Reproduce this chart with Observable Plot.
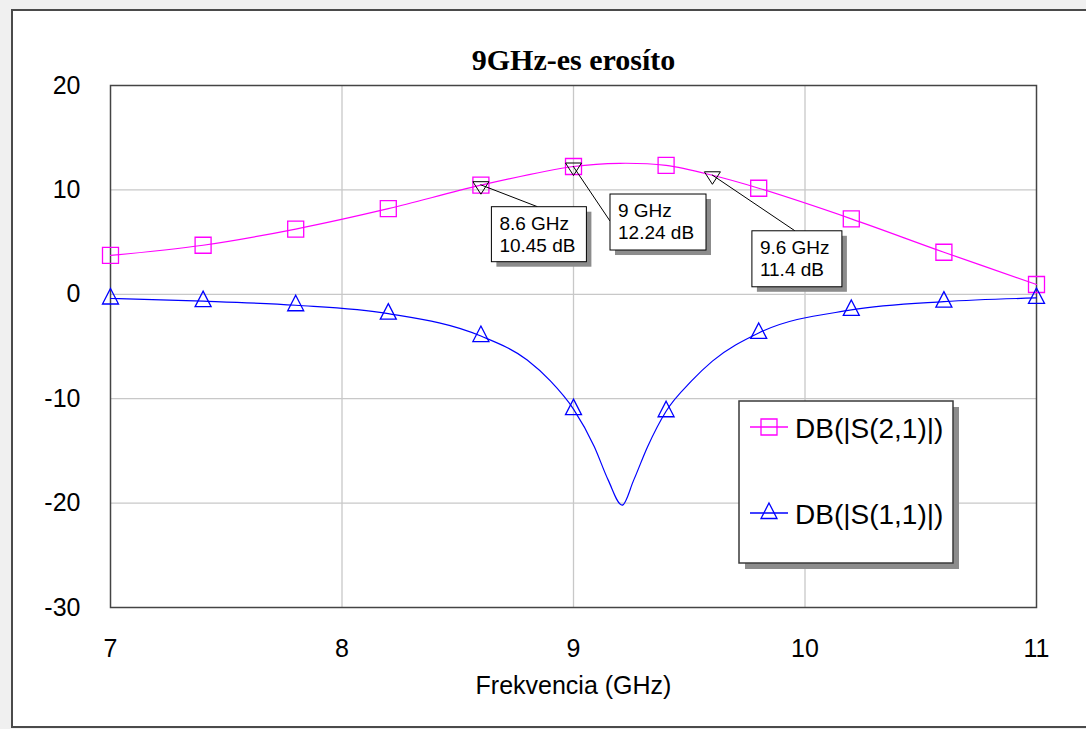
<!DOCTYPE html>
<html>
<head>
<meta charset="utf-8">
<script src="https://cdn.jsdelivr.net/npm/d3@7"></script>
<script src="https://cdn.jsdelivr.net/npm/@observablehq/plot@0.6"></script>
<style>
  html, body { margin: 0; padding: 0; background: #f0f0f0; width: 1086px; height: 729px; overflow: hidden; }
  #panel { position: absolute; left: 11px; top: 9px; width: 1090px; height: 715px; background: #fff;
           border: 2px solid #4a4a4a; border-right: none; }
  #chart { position: absolute; left: 0; top: 0; }
</style>
</head>
<body>
<div id="panel"></div>
<div id="chart"></div>
<script>
// ---- data -------------------------------------------------------------
const title = "9GHz-es erosíto";
const xLabel = "Frekvencia (GHz)";
const xTicks = [7, 8, 9, 10, 11];
const yTicks = [-30, -20, -10, 0, 10, 20];
const seriesNames = ["DB(|S(2,1)|)", "DB(|S(1,1)|)"];

// frequencies where the symbols sit on each trace
const symbolFreq = [7.0, 7.4, 7.8, 8.2, 8.6, 9.0, 9.4, 9.8, 10.2, 10.6, 11.0];

// gain |S21| in dB
const s21Freq = [7.0, 7.4, 7.8, 8.2, 8.6, 9.0, 9.2, 9.4, 9.6, 9.8, 10.2, 10.6, 11.0];
const s21Db   = [3.72, 4.7, 6.25, 8.2, 10.45, 12.24, 12.55, 12.34, 11.4, 10.16, 7.23, 4.03, 0.94];

// input match |S11| in dB
const s11Freq = [7.0, 7.4, 7.8, 8.2, 8.6, 8.8, 8.9, 9.0, 9.09, 9.15, 9.21, 9.26, 9.32, 9.4, 9.51, 9.6, 9.8, 10.2, 10.6, 11.0];
const s11Db   = [-0.4, -0.65, -1.05, -1.85, -4.0, -6.3, -8.3, -11.0, -14.6, -17.8, -20.2, -17.8, -14.6, -11.2, -8.3, -6.4, -3.7, -1.5, -0.7, -0.35];

// readout markers on the S21 trace
const readoutFreq = [8.6, 9.0, 9.6];
const readoutDb   = [10.45, 12.24, 11.4];

// ---- layout (pixels) --------------------------------------------------
// box offset from the marker point, box size, and where the leader meets the box
const readoutBoxes = [
  { dx: 11, dy: 22, w: 95, h: 55, lx: 57, ly: 22 },
  { dx: 37, dy: 28, w: 96, h: 56, lx: 37, ly: 55 },
  { dx: 40, dy: 56, w: 90, h: 56, lx: 83, ly: 56 }
];
const legendBox = { x: 739, y: 401, w: 214, h: 162, rows: [427, 513] };

// ---- tables -------------------------------------------------------------
const s21 = s21Freq.map((f, i) => ({ f, db: s21Db[i] }));
const s11 = s11Freq.map((f, i) => ({ f, db: s11Db[i] }));
const onSymbol = d => symbolFreq.some(s => Math.abs(s - d.f) < 1e-9);
const readouts = readoutFreq.map((f, i) => ({ f, db: readoutDb[i] }));

// ---- symbols ------------------------------------------------------------
const triUp = { draw(c) { c.moveTo(0, -10); c.lineTo(8, 5.5); c.lineTo(-8, 5.5); c.closePath(); } };
const triDown = { draw(c) { c.moveTo(0, 9); c.lineTo(8, -3.5); c.lineTo(-8, -3.5); c.closePath(); } };
const square = { draw(c) { c.moveTo(-8, -8); c.lineTo(8, -8); c.lineTo(8, 8); c.lineTo(-8, 8); c.closePath(); } };

const MAGENTA = "#ff00ff", BLUE = "#0000ff";

// readout boxes with leader lines and the series legend
function overlays(index, scales) {
  const g = d3.create("svg:g").attr("text-anchor", "start");
  readouts.forEach((r, i) => {
    const b = readoutBoxes[i];
    const px = scales.x(r.f), py = scales.y(r.db);
    g.append("line")
      .attr("x1", px).attr("y1", py).attr("x2", px + b.lx).attr("y2", py + b.ly)
      .attr("stroke", "#000").attr("stroke-width", 1);
    g.append("rect")
      .attr("x", px + b.dx + 5).attr("y", py + b.dy + 5).attr("width", b.w).attr("height", b.h)
      .attr("fill", "#8c8c8c");
    g.append("rect")
      .attr("x", px + b.dx).attr("y", py + b.dy).attr("width", b.w).attr("height", b.h)
      .attr("fill", "#fff").attr("stroke", "#000").attr("stroke-width", 1);
    const t = g.append("text")
      .attr("font-size", 19).attr("fill", "#000").attr("text-anchor", "start");
    t.append("tspan").attr("x", px + b.dx + 8).attr("y", py + b.dy + 23).text(`${r.f} GHz`);
    t.append("tspan").attr("x", px + b.dx + 8).attr("y", py + b.dy + 45).text(`${r.db} dB`);
  });

  const L = legendBox;
  g.append("rect").attr("x", L.x + 6).attr("y", L.y + 6).attr("width", L.w).attr("height", L.h).attr("fill", "#8c8c8c");
  g.append("rect").attr("x", L.x).attr("y", L.y).attr("width", L.w).attr("height", L.h)
    .attr("fill", "#fff").attr("stroke", "#3a3a3a").attr("stroke-width", 1.5);
  const legendItems = [
    { name: seriesNames[0], color: MAGENTA, sym: square },
    { name: seriesNames[1], color: BLUE, sym: triUp }
  ];
  legendItems.forEach((it, i) => {
    const y = L.rows[i];
    g.append("line").attr("x1", L.x + 11).attr("x2", L.x + 49).attr("y1", y).attr("y2", y)
      .attr("stroke", it.color).attr("stroke-width", 1.3);
    const p = d3.path(); it.sym.draw(p);
    g.append("path").attr("d", p.toString()).attr("transform", `translate(${L.x + 30},${y})`)
      .attr("fill", "none").attr("stroke", it.color).attr("stroke-width", 1.3);
    g.append("text").attr("x", L.x + 56).attr("y", y + 11).attr("font-size", 28).attr("fill", "#000")
      .attr("text-anchor", "start").text(it.name);
  });
  return g.node();
}

const chart = Plot.plot({
  width: 1086,
  height: 729,
  marginLeft: 110,
  marginRight: 50,
  marginTop: 85,
  marginBottom: 122,
  style: { background: "transparent", fontFamily: "'Liberation Sans', Arial, sans-serif", fontSize: "25px", color: "#000" },
  x: { domain: [7, 11], ticks: xTicks, tickSize: 0, tickPadding: 32, label: null, tickFormat: d => String(d) },
  y: { domain: [-30, 20], ticks: yTicks, tickSize: 0, tickPadding: 30, label: null, tickFormat: d => String(d) },
  marks: [
    Plot.ruleX(xTicks.slice(1, -1), { stroke: "#c8c8c8", strokeWidth: 1.3 }),
    Plot.ruleY(yTicks.slice(1, -1), { stroke: "#c8c8c8", strokeWidth: 1.3 }),
    Plot.frame({ stroke: "#444", strokeWidth: 1.5 }),
    Plot.line(s21, { x: "f", y: "db", stroke: MAGENTA, strokeWidth: 1.2, curve: "catmull-rom" }),
    Plot.line(s11, { x: "f", y: "db", stroke: BLUE, strokeWidth: 1.2, curve: "monotone-x" }),
    Plot.dot(s21.filter(onSymbol), { x: "f", y: "db", symbol: square, stroke: MAGENTA, strokeWidth: 1.3, fill: "none" }),
    Plot.dot(s11.filter(onSymbol), { x: "f", y: "db", symbol: triUp, stroke: BLUE, strokeWidth: 1.3, fill: "none" }),
    Plot.dot(readouts, { x: "f", y: "db", symbol: triDown, stroke: "#000", strokeWidth: 1, fill: "none" }),
    overlays,
    Plot.text([title], { frameAnchor: "top", dy: -37, text: d => d, fontSize: 30, fontWeight: "bold",
      fontFamily: "'Liberation Serif', 'Times New Roman', serif", fill: "#000" }),
    Plot.text([xLabel], { frameAnchor: "bottom", dy: 86, text: d => d, fontSize: 25, fill: "#000" })
  ]
});
document.getElementById("chart").appendChild(chart);
</script>
</body>
</html>
